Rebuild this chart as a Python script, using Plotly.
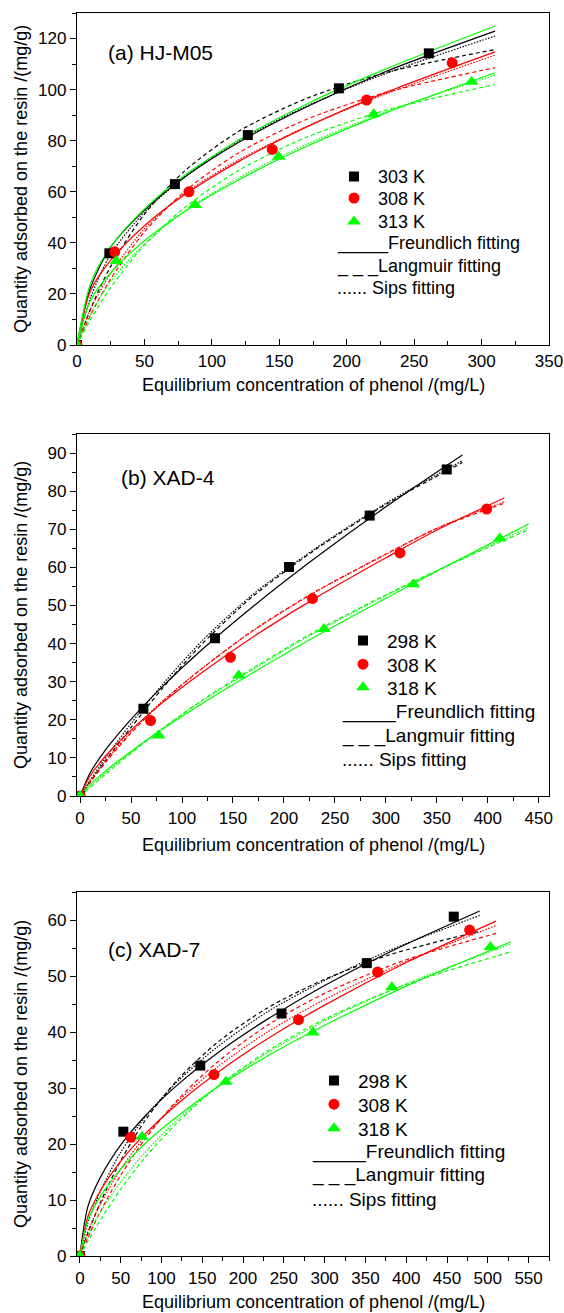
import plotly.graph_objects as go

# ---------------- data ----------------
# Panel (a) HJ-M05
a_x303 = [0, 24, 72.6, 126.7, 194.2, 260.9]
a_y303 = [0, 35.9, 63.0, 82.2, 100.5, 114.2]
a_x308 = [0, 28, 83, 144.8, 214.7, 278.2]
a_y308 = [0, 36.5, 60.0, 76.6, 95.9, 110.5]
a_x313 = [0, 29.3, 87.5, 149.4, 220, 292.6]
a_y313 = [0, 32.9, 54.8, 73.7, 90.4, 103.1]
a_xfit = [0, 10, 25, 50, 80, 120, 170, 230, 310]
a303_F = [0, 22.5, 38.3, 52.8, 65.8, 79.4, 93.2, 107.3, 122.9]
a303_L = [0, 14.0, 30.8, 51.2, 68.2, 83.7, 96.5, 106.8, 115.7]
a303_S = [0, 18.5, 35.5, 52.0, 66.0, 80.0, 93.5, 106.5, 121.0]
a_green_upper = [0, 24.0, 38.5, 53.3, 66.5, 80.3, 94.3, 108.3, 124.9]
a308_F = [0, 21.2, 33.2, 46.7, 58.9, 71.9, 85.3, 99.1, 114.8]
a308_L = [0, 11.6, 25.9, 44.3, 60.2, 75.3, 88.3, 99.0, 108.6]
a308_S = [0, 14.0, 28.0, 45.5, 59.5, 72.5, 85.5, 98.5, 113.5]
a313_F = [0, 17.5, 28.3, 40.8, 52.3, 64.7, 77.7, 91.1, 106.6]
a313_L = [0, 9.9, 22.5, 39.1, 53.9, 68.4, 81.3, 92.1, 102.0]
a313_S = [0, 12.0, 25.0, 39.5, 52.5, 65.5, 78.5, 91.5, 105.7]

# Panel (b) XAD-4
b_x298 = [0, 62.1, 132.4, 205, 284.1, 359.7]
b_y298 = [0, 22.9, 41.4, 60.1, 73.6, 85.7]
b_x308 = [0, 69.2, 147.5, 228, 313.8, 398.9]
b_y308 = [0, 19.8, 36.4, 51.8, 63.8, 75.3]
b_x318 = [0, 77, 155.7, 239.3, 326.9, 411.6]
b_y318 = [0, 15.9, 31.6, 43.8, 55.6, 67.6]
b_xfit298 = [0, 10, 25, 50, 80, 120, 170, 230, 300, 375]
b298_F = [0, 6.1, 12.1, 20.1, 28.5, 38.5, 49.8, 62.3, 75.9, 89.5]
b298_L = [0, 3.8, 9.3, 18.0, 28.0, 40.0, 52.5, 64.5, 76.5, 87.5]
b298_S = [0, 4.2, 10.0, 19.0, 29.0, 40.8, 53.0, 64.8, 76.8, 88.0]
b_xfit308 = [0, 10, 25, 50, 80, 120, 170, 230, 300, 350, 416]
b308_F = [0, 5.3, 10.5, 17.3, 24.3, 32.5, 41.8, 51.8, 62.5, 69.8, 78.2]
b308_L = [0, 3.6, 8.8, 16.5, 24.5, 33.5, 43.5, 53.5, 63.5, 70.2, 76.8]
b308_S = [0, 3.9, 9.2, 16.9, 24.7, 33.6, 43.4, 53.4, 63.4, 70.3, 77.2]
b_xfit318 = [0, 10, 25, 50, 80, 120, 170, 230, 300, 370, 440]
b318_F = [0, 3.1, 6.6, 11.7, 17.4, 24.3, 32.4, 41.7, 51.9, 61.8, 71.4]
b318_L = [0, 2.3, 5.7, 11.2, 17.5, 25.2, 33.6, 43.1, 52.8, 61.6, 69.9]
b318_S = [0, 2.6, 6.1, 11.5, 17.6, 25.0, 33.3, 42.8, 52.6, 61.7, 70.5]

# Panel (c) XAD-7
c_x298 = [0, 53.3, 147.6, 247.2, 351.7, 458.3]
c_y298 = [0, 22.2, 34.0, 43.3, 52.3, 60.6]
c_x308 = [0, 62.6, 164.4, 268, 364.9, 477.7]
c_y308 = [0, 21.2, 32.4, 42.2, 50.7, 58.2]
c_x318 = [0, 76.2, 178.9, 285.6, 382.5, 503.3]
c_y318 = [0, 21.3, 31.1, 39.9, 48.0, 55.2]
c_xfit298 = [0, 10, 25, 50, 80, 120, 170, 230, 300, 380, 490]
c298_F = [0, 8.9, 14.0, 19.8, 25.0, 30.6, 36.4, 42.3, 48.3, 54.3, 61.6]
c298_L = [0, 4.1, 9.5, 17.0, 24.2, 31.5, 38.3, 44.3, 49.4, 53.8, 58.0]
c298_S = [0, 6.0, 11.5, 18.5, 24.8, 31.2, 37.5, 43.6, 49.2, 54.6, 60.8]
c_xfit308 = [0, 10, 25, 50, 80, 120, 170, 230, 300, 400, 510]
c308_F = [0, 7.1, 11.6, 16.9, 21.8, 27.2, 32.9, 38.8, 44.8, 52.4, 59.8]
c308_L = [0, 3.3, 7.9, 14.4, 20.9, 27.9, 34.8, 41.2, 46.9, 52.9, 57.6]
c308_S = [0, 4.5, 9.2, 15.5, 21.4, 27.6, 33.9, 40.0, 45.8, 52.6, 59.0]
c_xfit318 = [0, 10, 25, 50, 80, 120, 170, 230, 300, 400, 528]
c318_F = [0, 6.5, 10.6, 15.5, 20.1, 25.0, 30.3, 35.7, 41.2, 48.2, 56.1]
c318_L = [0, 2.7, 6.4, 11.9, 17.6, 23.9, 30.4, 36.6, 42.3, 48.5, 54.3]
c318_S = [0, 3.8, 7.8, 13.2, 18.5, 24.4, 30.4, 36.3, 42.0, 48.6, 55.7]

panel_labels = ["(a) HJ-M05", "(b) XAD-4", "(c) XAD-7"]
temps = [["303 K", "308 K", "313 K"], ["298 K", "308 K", "318 K"], ["298 K", "308 K", "318 K"]]
fit_labels = ["_____Freundlich fitting", "_ _ _Langmuir fitting", "...... Sips fitting"]
x_title = "Equilibrium concentration of phenol /(mg/L)"
y_title = "Quantity adsorbed on the resin /(mg/g)"

# ---------------- style ----------------
FONT = "Liberation Sans, Arial, sans-serif"
W, H = 564, 1313
BLACK, RED, GREEN = "#000000", "#FF0000", "#00FF00"
colors = [BLACK, RED, GREEN]
symbols = ["square", "circle", "triangle-up"]
msizes = [10, 11, 12]
LW = 1.2

px_left, px_right = 77, 549
panels_px = [(13, 345), (434, 796), (892, 1256)]
xranges = [[0, 350], [-3, 460], [-3.5, 575]]
yranges = [[0, 130], [0, 95], [0, 65]]
ydticks = [20, 10, 10]
xtick_dir = ["inside", "outside", "outside"]
xtitle_gap = [40, 49, 46]

legend_left = [330, 339, 310]
legend_rows = [[176.7, 198.3, 221.7], [640.7, 664.3, 687.3], [1080.7, 1104.3, 1128.3]]
legend_fs = [18, 19, 19]
fit_left = [334.5, 340, 310]
fit_rows = [[243.3, 266.7, 288.3], [711.7, 736, 759.3], [1152.3, 1175, 1199.3]]
label_pos = [(106, 52), (119, 477), (106, 949)]

fig = go.Figure()


def ydom(top, bottom):
    return [1 - bottom / H, 1 - top / H]


xdom = [px_left / W, px_right / W]

panels = [
    dict(pts=[(a_x303, a_y303), (a_x308, a_y308), (a_x313, a_y313)],
         fits=[(a_xfit, [a303_F, a303_L, a303_S]),
               (a_xfit, [a308_F, a308_L, a308_S]),
               (a_xfit, [a313_F, a313_L, a313_S])],
         extra=[(a_xfit, a_green_upper, GREEN)]),
    dict(pts=[(b_x298, b_y298), (b_x308, b_y308), (b_x318, b_y318)],
         fits=[(b_xfit298, [b298_F, b298_L, b298_S]),
               (b_xfit308, [b308_F, b308_L, b308_S]),
               (b_xfit318, [b318_F, b318_L, b318_S])],
         extra=[]),
    dict(pts=[(c_x298, c_y298), (c_x308, c_y308), (c_x318, c_y318)],
         fits=[(c_xfit298, [c298_F, c298_L, c298_S]),
               (c_xfit308, [c308_F, c308_L, c308_S]),
               (c_xfit318, [c318_F, c318_L, c318_S])],
         extra=[]),
]

dashes = ["solid", "4px,3px", "1.5px,1.5px"]

layout = dict(width=W, height=H, margin=dict(l=0, r=0, t=0, b=0, autoexpand=False),
              paper_bgcolor="white", plot_bgcolor="white",
              font=dict(family=FONT, color="black", size=17),
              showlegend=True)
annotations = []

tickbase = dict(showgrid=False, zeroline=False, tickcolor="black", tickwidth=1.2,
                automargin=False, tickfont=dict(family=FONT, size=17, color="black"))

for i, p in enumerate(panels):
    n = "" if i == 0 else str(i + 1)
    xa, ya = "x" + n, "y" + n
    for k, (xf, curves) in enumerate(p["fits"]):
        for d, yc in enumerate(curves):
            fig.add_trace(go.Scatter(x=xf, y=yc, xaxis=xa, yaxis=ya, mode="lines",
                                     line=dict(color=colors[k], width=LW, dash=dashes[d],
                                               shape="spline", smoothing=0.8),
                                     showlegend=False, hoverinfo="skip"))
    for xf, yc, col in p["extra"]:
        fig.add_trace(go.Scatter(x=xf, y=yc, xaxis=xa, yaxis=ya, mode="lines",
                                 line=dict(color=col, width=LW, shape="spline", smoothing=0.8),
                                 showlegend=False, hoverinfo="skip"))
    for k, (xs, ys) in enumerate(p["pts"]):
        leg_idx = i * 3 + k + 1
        leg = "legend" if leg_idx == 1 else "legend" + str(leg_idx)
        fig.add_trace(go.Scatter(x=xs, y=ys, xaxis=xa, yaxis=ya, mode="markers",
                                 marker=dict(color=colors[k], symbol=symbols[k], size=msizes[k],
                                             line=dict(width=0)),
                                 name=temps[i][k], legend=leg, cliponaxis=True))
        layout[leg] = dict(x=legend_left[i] / W, y=1 - legend_rows[i][k] / H,
                           xref="paper", yref="paper", xanchor="left", yanchor="middle",
                           bgcolor="rgba(0,0,0,0)", borderwidth=0, itemwidth=38,
                           font=dict(family=FONT, size=legend_fs[i], color="black"))

    top, bottom = panels_px[i]
    layout["xaxis" + n] = dict(tickbase, domain=xdom, anchor=ya, range=xranges[i],
                               showline=True, linecolor="black", linewidth=1.3, mirror=True,
                               dtick=50, tick0=0, ticks=xtick_dir[i], ticklen=6,
                               minor=dict(dtick=25, tick0=0, ticks=xtick_dir[i], ticklen=3.5,
                                          tickcolor="black", tickwidth=1.2))
    layout["yaxis" + n] = dict(tickbase, domain=ydom(top, bottom), anchor=xa, range=yranges[i],
                               showline=True, linecolor="black", linewidth=1.3, mirror=True,
                               dtick=ydticks[i], tick0=0, ticks="outside", ticklen=6,
                               minor=dict(dtick=ydticks[i] / 2, tick0=0, ticks="outside", ticklen=3.5,
                                          tickcolor="black", tickwidth=1.2))
    # mirrored ticks pointing inward on top and right
    layout["xaxis" + str(i + 4)] = dict(tickbase, overlaying=xa, side="top", anchor=ya,
                                        range=xranges[i], showline=False, showticklabels=False,
                                        dtick=50, tick0=0, ticks="inside", ticklen=6,
                                        minor=dict(dtick=25, tick0=0, ticks="inside", ticklen=3.5,
                                                   tickcolor="black", tickwidth=1.2))
    layout["yaxis" + str(i + 4)] = dict(tickbase, overlaying=ya, side="right", anchor=xa,
                                        range=yranges[i], showline=False, showticklabels=False,
                                        dtick=ydticks[i], tick0=0, ticks="inside", ticklen=6,
                                        minor=dict(dtick=ydticks[i] / 2, tick0=0, ticks="inside",
                                                   ticklen=3.5, tickcolor="black", tickwidth=1.2))

    annotations.append(dict(text=x_title, xref="paper", yref="paper",
                            x=(px_left + px_right) / 2 / W, y=1 - (bottom + xtitle_gap[i]) / H,
                            xanchor="center", yanchor="middle", showarrow=False,
                            font=dict(family=FONT, size=18)))
    annotations.append(dict(text=y_title, xref="paper", yref="paper",
                            x=21 / W, y=1 - (top + bottom) / 2 / H, textangle=-90,
                            xanchor="center", yanchor="middle", showarrow=False,
                            font=dict(family=FONT, size=18)))
    for r, txt in enumerate(fit_labels):
        annotations.append(dict(text=txt, xref="paper", yref="paper",
                                x=fit_left[i] / W, y=1 - fit_rows[i][r] / H,
                                xanchor="left", yanchor="middle", showarrow=False,
                                font=dict(family=FONT, size=legend_fs[i])))
    lx, ly = label_pos[i]
    annotations.append(dict(text=panel_labels[i], xref="paper", yref="paper",
                            x=lx / W, y=1 - ly / H, xanchor="left", yanchor="middle",
                            showarrow=False, font=dict(family=FONT, size=21)))

layout["annotations"] = annotations
fig.update_layout(**layout)
# remove the browser's default 8px page margin so the figure sits at the window origin
fig.write_html("out.html", config={"displayModeBar": False},
               post_script="document.body.style.margin='0px';")
